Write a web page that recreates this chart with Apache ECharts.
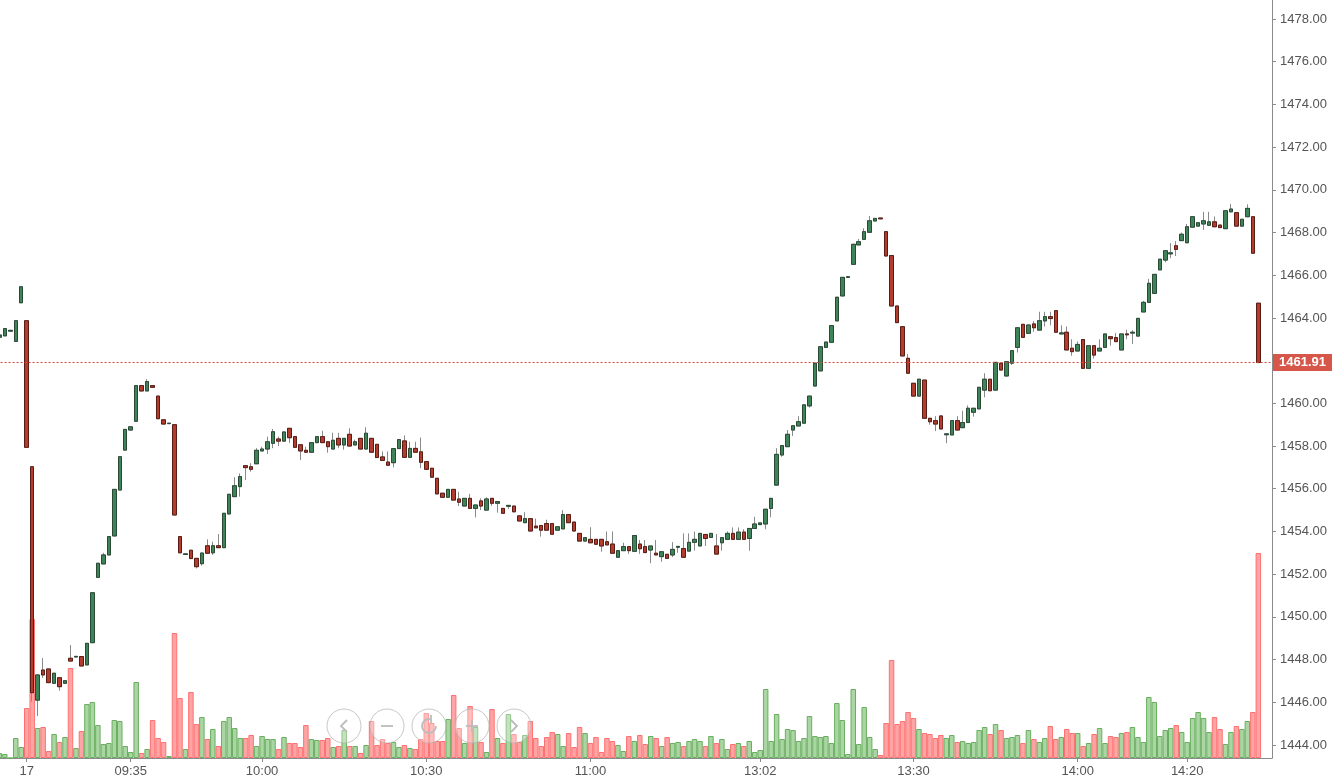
<!DOCTYPE html>
<html>
<head>
<meta charset="utf-8">
<style>
html,body{margin:0;padding:0;background:#fff;}
#chart{width:1332px;height:783px;}
</style>
<script src="https://cdn.jsdelivr.net/npm/echarts@6.0.0/dist/echarts.min.js"></script>
</head>
<body>
<div id="chart"></div>
<script>
// ---- data ----
const slotCount = 233;
const tickIndex = [5, 24, 48, 78, 108, 139, 167, 197, 217];
const tickText = ['17', '09:35', '10:00', '10:30', '11:00', '13:02', '13:30', '14:00', '14:20'];
const priceTicks = [1444,1446,1448,1450,1452,1454,1456,1458,1460,1462,1464,1466,1468,1470,1472,1474,1476,1478];
const lastPrice = 1461.91;

// [open, close, low, high]
const candles = [
[1463.10,1463.20,1463.05,1463.47],[1463.16,1463.50,1463.16,1463.50],[1463.38,1463.42,1463.38,1463.42],[1462.90,1463.87,1462.90,1463.87],
[1464.71,1465.46,1464.71,1465.46],[1463.87,1457.94,1457.94,1463.87],[1457.03,1446.45,1446.03,1457.03],[1446.10,1447.28,1445.36,1447.30],
[1447.51,1447.28,1447.14,1448.07],[1447.56,1446.92,1446.92,1447.56],[1446.89,1447.36,1446.89,1447.36],[1447.15,1446.73,1446.54,1447.15],
[1446.89,1447.01,1446.89,1447.01],[1448.06,1447.93,1447.93,1448.68],[1448.12,1448.15,1448.12,1448.15],[1448.14,1447.70,1447.70,1448.14],
[1447.75,1448.76,1447.75,1448.76],[1448.79,1451.13,1448.79,1451.13],[1451.85,1452.51,1451.85,1452.51],[1452.48,1452.90,1452.48,1453.00],
[1452.90,1453.76,1452.90,1453.76],[1453.79,1455.97,1453.79,1455.97],[1455.94,1457.50,1455.94,1457.50],[1457.81,1458.78,1457.81,1458.78],
[1458.75,1458.90,1458.75,1458.90],[1459.16,1460.83,1459.16,1460.83],[1460.83,1460.58,1460.58,1460.83],[1460.58,1461.02,1460.58,1461.13],
[1460.83,1460.75,1460.75,1460.83],[1460.34,1459.28,1459.28,1460.34],[1459.23,1459.03,1459.03,1459.23],[1459.05,1459.07,1459.05,1459.07],
[1459.00,1454.77,1454.77,1459.00],[1453.76,1453.00,1453.00,1453.76],[1452.92,1452.95,1452.92,1452.95],[1453.12,1452.73,1452.73,1453.12],
[1452.74,1452.35,1452.27,1452.74],[1452.49,1452.99,1452.40,1452.99],[1453.33,1452.98,1452.98,1453.63],[1453.00,1453.33,1452.90,1453.52],
[1453.33,1453.24,1453.24,1453.88],[1453.24,1454.85,1453.24,1454.85],[1454.82,1455.74,1454.82,1455.74],[1455.63,1456.14,1455.63,1456.54],
[1456.10,1456.57,1455.63,1456.72],[1457.08,1456.99,1456.41,1457.08],[1457.03,1456.91,1456.80,1457.20],[1457.17,1457.80,1457.17,1457.90],
[1457.77,1457.86,1457.77,1457.97],[1457.86,1458.20,1457.63,1458.44],[1458.13,1458.67,1457.90,1458.80],[1458.33,1458.23,1458.00,1458.44],
[1458.23,1458.66,1458.23,1458.66],[1458.83,1458.39,1458.15,1458.83],[1458.44,1457.94,1457.94,1458.44],[1458.06,1457.77,1457.35,1458.06],
[1457.80,1457.71,1457.71,1457.97],[1457.71,1458.16,1457.71,1458.16],[1458.16,1458.44,1458.16,1458.44],[1458.44,1458.16,1458.16,1458.72],
[1458.20,1457.97,1457.69,1458.20],[1457.86,1458.27,1457.86,1458.62],[1458.36,1458.05,1457.90,1458.62],[1458.05,1458.36,1457.83,1458.36],
[1458.55,1458.00,1458.00,1458.83],[1458.05,1458.20,1458.05,1458.30],[1458.36,1457.86,1457.86,1458.36],[1457.86,1458.60,1457.86,1458.88],
[1458.36,1457.71,1457.71,1458.36],[1458.08,1457.46,1457.46,1458.08],[1457.49,1457.33,1457.33,1457.75],[1457.25,1457.10,1457.10,1457.75],
[1457.22,1457.88,1457.00,1457.88],[1457.88,1458.30,1457.88,1458.30],[1458.24,1457.47,1457.47,1458.50],[1457.47,1457.89,1457.47,1458.20],
[1457.89,1457.71,1457.71,1458.20],[1457.73,1457.24,1456.96,1458.40],[1457.27,1456.91,1456.91,1457.27],[1456.96,1456.54,1456.54,1456.96],
[1456.49,1455.76,1455.76,1456.49],[1455.79,1455.60,1455.60,1455.79],[1455.60,1455.97,1455.60,1455.97],[1455.97,1455.47,1455.47,1455.97],
[1455.52,1455.37,1455.19,1455.86],[1455.19,1455.55,1455.19,1455.55],[1455.55,1455.08,1455.08,1455.76],[1455.08,1455.24,1454.66,1455.24],
[1455.43,1455.19,1455.00,1455.55],[1455.00,1455.52,1455.00,1455.60],[1455.55,1455.32,1455.20,1455.55],[1455.32,1455.40,1454.88,1455.40],
[1455.08,1454.85,1454.85,1455.08],[1455.18,1455.22,1455.05,1455.22],[1455.19,1454.92,1454.92,1455.19],[1454.73,1454.49,1454.49,1454.73],
[1454.41,1454.60,1454.41,1454.90],[1454.60,1454.02,1454.02,1454.60],[1454.25,1454.17,1454.17,1454.60],[1454.28,1454.06,1453.76,1454.28],
[1454.37,1454.06,1454.06,1454.55],[1454.37,1453.87,1453.87,1454.37],[1454.06,1454.22,1454.06,1454.22],[1454.12,1454.79,1454.12,1455.00],
[1454.79,1454.41,1454.41,1454.79],[1454.44,1454.02,1454.02,1454.44],[1453.91,1453.55,1453.55,1453.91],[1453.55,1453.71,1453.55,1453.71],
[1453.63,1453.47,1453.47,1454.20],[1453.63,1453.40,1453.40,1453.63],[1453.63,1453.32,1453.05,1453.63],[1453.52,1453.37,1453.37,1454.00],
[1453.41,1452.98,1452.98,1454.00],[1452.79,1453.10,1452.79,1453.10],[1453.10,1453.29,1453.10,1453.47],[1453.29,1453.10,1452.95,1453.29],
[1453.07,1453.81,1453.07,1453.81],[1453.41,1453.19,1452.95,1453.60],[1453.29,1453.01,1453.01,1453.60],[1453.13,1453.32,1452.51,1453.32],
[1452.98,1452.90,1452.90,1453.60],[1452.82,1453.05,1452.58,1453.05],[1452.93,1452.74,1452.74,1452.93],[1452.90,1453.16,1452.80,1453.50],
[1453.26,1453.30,1453.00,1453.30],[1453.20,1452.79,1452.79,1453.91],[1453.08,1453.49,1453.08,1453.91],[1453.49,1453.63,1453.10,1454.00],
[1453.32,1453.91,1453.32,1453.91],[1453.86,1453.67,1453.32,1453.86],[1453.72,1453.91,1453.72,1453.91],[1453.32,1452.94,1452.94,1453.88],
[1453.47,1453.71,1453.10,1453.71],[1453.63,1453.91,1453.63,1454.00],[1453.91,1453.63,1453.63,1454.19],[1453.63,1453.97,1453.63,1454.19],
[1453.97,1453.63,1453.63,1454.10],[1453.67,1454.14,1453.10,1454.14],[1454.14,1454.35,1454.14,1454.69],[1454.32,1454.40,1454.32,1454.40],
[1454.35,1455.04,1454.10,1455.04],[1455.08,1455.55,1454.66,1455.55],[1456.17,1457.61,1456.17,1457.90],[1457.58,1458.02,1457.50,1458.02],
[1457.97,1458.55,1457.97,1458.75],[1458.75,1458.95,1458.47,1458.95],[1458.94,1459.14,1458.94,1459.40],[1459.07,1459.93,1459.07,1459.93],
[1459.88,1460.34,1459.80,1460.34],[1460.81,1461.88,1460.81,1461.88],[1461.52,1462.65,1461.52,1462.65],[1462.62,1462.87,1462.62,1462.87],
[1462.86,1463.64,1462.86,1463.64],[1463.86,1464.97,1463.86,1464.97],[1465.03,1465.90,1465.03,1465.90],[1465.90,1465.93,1465.90,1465.93],
[1466.51,1467.45,1466.51,1467.45],[1467.42,1467.57,1467.42,1467.70],[1467.68,1468.04,1467.68,1468.20],[1468.01,1468.55,1468.01,1468.77],
[1468.54,1468.66,1468.54,1468.66],[1468.68,1468.64,1468.64,1468.68],[1468.04,1466.90,1466.90,1468.04],[1466.92,1464.56,1464.56,1466.92],
[1464.56,1463.78,1463.78,1464.56],[1463.59,1462.22,1462.22,1463.59],[1462.11,1461.41,1461.41,1462.31],[1460.94,1460.34,1460.34,1460.94],
[1460.34,1461.13,1460.34,1461.13],[1461.09,1459.30,1459.30,1461.09],[1459.30,1459.14,1459.00,1459.30],[1459.19,1459.03,1458.70,1459.40],
[1459.41,1458.80,1458.80,1459.41],[1458.53,1458.57,1458.13,1458.57],[1458.52,1459.19,1458.52,1459.19],[1459.19,1458.75,1458.75,1459.40],
[1458.86,1459.10,1458.86,1459.65],[1459.10,1459.77,1459.10,1459.90],[1459.58,1459.77,1459.38,1459.77],[1459.74,1460.75,1459.74,1460.75],
[1460.62,1461.13,1460.28,1461.41],[1461.13,1460.59,1460.59,1461.13],[1460.62,1461.92,1460.62,1461.92],[1461.88,1461.56,1461.56,1461.88],
[1461.28,1461.95,1461.28,1461.95],[1461.88,1462.47,1461.80,1462.47],[1462.62,1463.54,1462.38,1463.54],[1463.70,1463.09,1463.09,1463.70],
[1463.28,1463.67,1463.28,1463.67],[1463.72,1463.54,1463.35,1463.85],[1463.43,1463.87,1463.43,1464.29],[1463.86,1464.06,1463.60,1464.29],
[1464.06,1463.97,1463.65,1464.29],[1464.34,1463.33,1463.33,1464.34],[1463.25,1463.30,1463.25,1463.65],[1463.33,1462.50,1462.50,1463.60],
[1462.58,1462.42,1462.23,1463.00],[1462.45,1462.76,1462.45,1462.90],[1462.99,1461.64,1461.64,1462.99],[1461.64,1462.70,1461.64,1462.70],
[1462.70,1462.26,1462.10,1462.70],[1462.45,1462.58,1462.45,1463.00],[1462.62,1463.25,1462.62,1463.25],[1463.12,1463.03,1462.70,1463.12],
[1463.08,1462.89,1462.89,1463.30],[1462.50,1463.25,1462.50,1463.25],[1463.25,1463.21,1463.00,1463.45],[1463.29,1463.33,1462.78,1463.43],
[1463.15,1463.98,1463.15,1463.98],[1464.28,1464.73,1464.28,1464.80],[1464.73,1465.62,1464.73,1465.83],[1465.15,1466.04,1465.15,1466.04],
[1466.25,1466.75,1466.25,1466.75],[1466.71,1467.15,1466.60,1467.15],[1467.00,1467.05,1466.80,1467.50],[1467.38,1467.21,1466.90,1467.60],
[1467.62,1467.92,1467.62,1468.00],[1467.52,1468.27,1467.52,1468.40],[1468.25,1468.74,1468.25,1468.74],[1468.30,1468.46,1468.30,1468.46],
[1468.40,1468.55,1468.12,1468.97],[1468.34,1468.50,1468.34,1468.97],[1468.50,1468.27,1468.27,1468.75],[1468.35,1468.23,1468.23,1468.35],
[1468.18,1469.02,1468.18,1469.02],[1468.97,1469.10,1468.97,1469.34],[1468.93,1468.30,1468.30,1468.93],[1468.30,1468.62,1468.30,1468.62],
[1468.74,1469.13,1468.74,1469.32],[1468.74,1467.03,1467.03,1468.74],[1464.69,1461.91,1461.91,1464.69]
];

// volume (relative units)
const volumes = [
5,4,0,20,11,50,139,30,31,7,24,16,21,90,10,27,54,56,33,14,15,38,37,12,6,76,5,9,38,20,16,2,125,60,9,66,34,41,19,29,
12,37,41,30,20,20,23,12,22,19,19,9,21,15,15,11,33,19,18,18,20,11,12,28,12,12,5,13,37,13,19,15,16,11,13,10,9,19,45,35,
17,17,39,63,30,15,52,31,16,6,49,20,15,44,24,16,23,37,20,12,21,26,24,12,25,11,31,25,15,21,6,20,17,13,7,22,17,23,14,22,
20,12,21,15,16,12,17,19,17,12,22,15,19,9,14,15,12,17,6,8,69,17,44,19,29,28,17,20,42,22,21,22,15,55,38,4,69,14,51,21,
9,3,35,98,34,37,46,40,29,25,24,20,23,20,23,16,17,15,16,28,31,24,34,28,20,21,23,15,28,19,16,20,32,19,21,29,25,25,12,15,
24,30,15,22,21,25,26,31,21,16,61,56,22,28,30,33,26,16,40,46,40,26,41,29,14,26,32,29,37,46,205
];

// ---- build ----
const categories = Array.from({length: slotCount}, (_, i) => String(i));
const labelFor = i => { const k = tickIndex.indexOf(i); return k >= 0 ? tickText[k] : ''; };
const isUp = c => c[1] >= c[0];
const bodies = candles.map(c => [c[0], c[1], Math.min(c[0], c[1]), Math.max(c[0], c[1])]);
const volRed = {color: '#ffa4a4', borderColor: '#ff7070', borderWidth: 1};
const volGreen = {color: '#a9d6a2', borderColor: '#6aae60', borderWidth: 1};
const volData = volumes.map((v, i) => ({value: v, itemStyle: isUp(candles[i]) ? volGreen : volRed}));

const FONT = '"Liberation Sans", Arial, sans-serif';

// zoom-control buttons overlay
const btnX = [344, 387, 429, 472, 514];
const btnY = 726;
const glyph = {stroke: '#bcbcbc', lineWidth: 1.8, fill: null};
const graphics = [];
btnX.forEach(cx => graphics.push({type: 'circle', z: 100, shape: {cx: cx, cy: btnY, r: 17},
  style: {fill: 'rgba(255,255,255,0.3)', stroke: 'rgba(175,175,175,0.7)', lineWidth: 1}}));
graphics.push({type: 'polyline', z: 101, shape: {points: [[btnX[0]+3, btnY-6], [btnX[0]-3, btnY], [btnX[0]+3, btnY+6]]}, style: glyph});
graphics.push({type: 'line', z: 101, shape: {x1: btnX[1]-6, y1: btnY, x2: btnX[1]+6, y2: btnY}, style: glyph});
graphics.push({type: 'arc', z: 101, shape: {cx: btnX[2], cy: btnY, r: 7, startAngle: 0, endAngle: Math.PI * 2 - 1.4, clockwise: true}, style: glyph});
graphics.push({type: 'line', z: 101, shape: {x1: btnX[2]+2, y1: btnY-11, x2: btnX[2]+2, y2: btnY-3}, style: glyph});
graphics.push({type: 'line', z: 101, shape: {x1: btnX[3]-6, y1: btnY, x2: btnX[3]+6, y2: btnY}, style: glyph});
graphics.push({type: 'line', z: 101, shape: {x1: btnX[3], y1: btnY-6, x2: btnX[3], y2: btnY+6}, style: glyph});
graphics.push({type: 'polyline', z: 101, shape: {points: [[btnX[4]-3, btnY-6], [btnX[4]+3, btnY], [btnX[4]-3, btnY+6]]}, style: glyph});

const chart = echarts.init(document.getElementById('chart'), null, {renderer: 'canvas'});
chart.setOption({
  animation: false,
  backgroundColor: '#ffffff',
  textStyle: {fontFamily: FONT},
  grid: {left: -3.4, right: 60, top: 0, bottom: 25, containLabel: false, outerBoundsMode: 'none'},
  xAxis: {
    type: 'category',
    data: categories,
    boundaryGap: true,
    axisLine: {show: true, lineStyle: {color: '#8a8a8a', width: 1}},
    axisTick: {show: true, alignWithLabel: true, length: 4, lineStyle: {color: '#8a8a8a'},
      interval: (i) => tickIndex.indexOf(i) >= 0},
    axisLabel: {show: true, color: '#555', fontSize: 13, fontFamily: FONT, margin: 7,
      interval: (i) => tickIndex.indexOf(i) >= 0,
      formatter: (v) => labelFor(parseInt(v, 10))},
    splitLine: {show: false}
  },
  yAxis: [{
    type: 'value',
    position: 'right',
    min: 1443.39,
    max: 1478.89,
    scale: true,
    axisLine: {show: true, lineStyle: {color: '#8a8a8a', width: 1}},
    axisTick: {show: true, length: 4, lineStyle: {color: '#8a8a8a'}, customValues: priceTicks},
    axisLabel: {show: true, color: '#555', fontSize: 13, fontFamily: FONT, margin: 8,
      customValues: priceTicks, formatter: (v) => v.toFixed(2)},
    splitLine: {show: false}
  }, {
    type: 'value',
    min: 0,
    max: 758,
    show: false,
    splitLine: {show: false}
  }],
  graphic: graphics,
  series: [{
    type: 'bar',
    name: 'volume',
    xAxisIndex: 0,
    yAxisIndex: 1,
    data: volData,
    barCategoryGap: '0%',
    z: 1
  }, {
    type: 'candlestick',
    name: 'wicks',
    data: candles,
    barWidth: 4,
    itemStyle: {color: '#8a8a8a', color0: '#8a8a8a', borderColor: '#8a8a8a', borderColor0: '#8a8a8a', borderWidth: 1},
    z: 3
  }, {
    type: 'candlestick',
    name: 'price',
    data: bodies,
    barWidth: 4,
    itemStyle: {color: '#3f8459', color0: '#b23c2d', borderColor: '#2a4a36', borderColor0: '#5a1c14', borderWidth: 1},
    z: 4,
    markLine: {
      silent: true,
      symbol: ['none', 'none'],
      animation: false,
      lineStyle: {color: '#d9473a', type: [2, 2], width: 1},
      label: {show: true, position: 'end', distance: 1, formatter: () => lastPrice.toFixed(2),
        backgroundColor: '#d6574a', color: '#fff', fontWeight: 'bold', fontSize: 13, fontFamily: FONT,
        padding: [2, 6, 2, 6]},
      data: [{yAxis: lastPrice}]
    }
  }]
});
</script>
</body>
</html>
